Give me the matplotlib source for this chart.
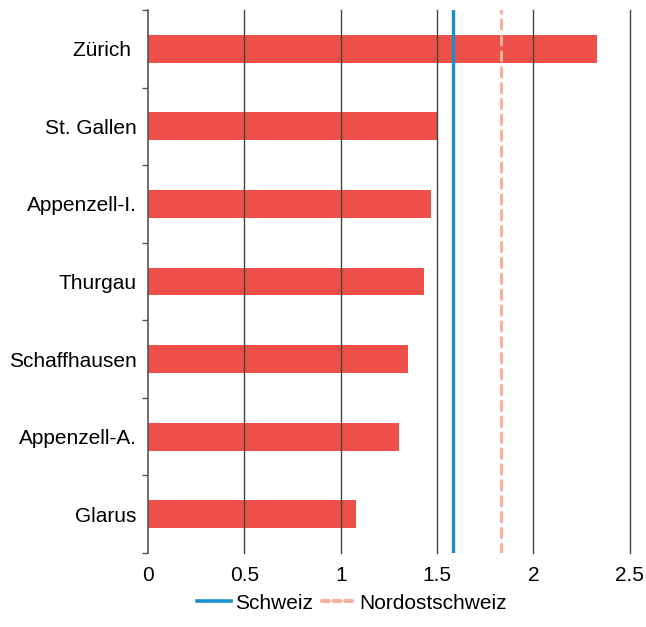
import numpy as np
import matplotlib.pyplot as plt
from matplotlib.lines import Line2D

plt.rcParams['font.family'] = ['Liberation Sans', 'DejaVu Sans']

kantone = ['Zürich ', 'St. Gallen', 'Appenzell-I.', 'Thurgau',
           'Schaffhausen', 'Appenzell-A.', 'Glarus']
werte = [2.33, 1.50, 1.47, 1.43, 1.35, 1.30, 1.08]
schweiz = 1.58
nordostschweiz = 1.83
xticks = [0, 0.5, 1, 1.5, 2, 2.5]
xlabels = ['0', '0.5', '1', '1.5', '2', '2.5']

rot = '#EC5048'
blau = '#1790D0'
lachs = '#F6B29E'

fig = plt.figure(figsize=(6.46, 6.27), dpi=100)
ax = fig.add_axes([0.229, 0.118, 0.746, 0.866])

y = np.arange(len(kantone))
ax.barh(y, werte, height=0.36, color=rot, zorder=2)

# vertikale Gitterlinien ueber den Balken
for t in xticks[1:]:
    ax.axvline(t, color='#444444', lw=1, zorder=3, clip_on=False)

ax.axvline(schweiz, color=blau, lw=2.4, zorder=4)
ax.axvline(nordostschweiz, color=lachs, lw=2.2, dashes=(3.0, 2.2),
           dash_capstyle='round', zorder=4)

ax.set_xlim(0, 2.5)
ax.set_ylim(len(kantone) - 0.5, -0.5)
ax.set_xticks(xticks)
ax.set_xticklabels(xlabels, fontsize=15)
ax.set_yticks(y)
ax.set_yticklabels(kantone, fontsize=15)
ax.set_yticks(np.arange(len(kantone) + 1) - 0.5, minor=True)

ax.tick_params(axis='x', length=0, pad=9)
ax.tick_params(axis='y', which='major', length=0, pad=8)
ax.tick_params(axis='y', which='minor', length=4, width=1, color='#555555')

for s in ['top', 'right', 'bottom']:
    ax.spines[s].set_visible(False)
ax.spines['left'].set_color('#555555')
ax.spines['left'].set_linewidth(1.2)

handles = [
    Line2D([], [], color=blau, lw=2.6),
    Line2D([], [], color=lachs, lw=3, dashes=(1.6, 1.2),
           dash_capstyle='round'),
]
fig.legend(handles, ['Schweiz', 'Nordostschweiz'], loc='center',
           bbox_to_anchor=(0.545, 0.038), ncol=2, frameon=False,
           fontsize=15, handlelength=1.6, handletextpad=0.2,
           columnspacing=0.45)

fig.savefig('out.png', dpi=100)
